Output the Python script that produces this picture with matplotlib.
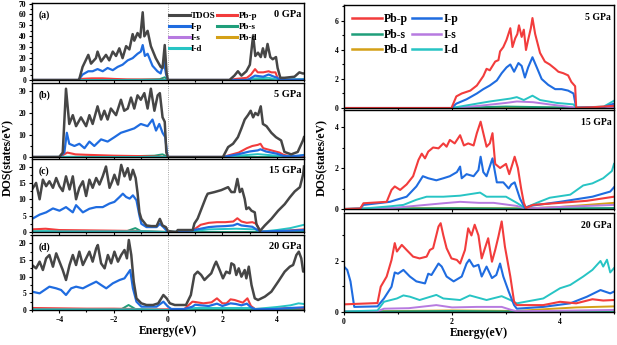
import matplotlib
matplotlib.use('Agg')
import matplotlib.pyplot as plt
from matplotlib.ticker import MultipleLocator

plt.rcParams['font.family'] = ['Liberation Serif', 'DejaVu Serif']
plt.rcParams['font.weight'] = 'bold'

# ---------- left panels: total + projected DOS, -5..5 eV ----------
# (a) 0 GPa
a_tdos_e = [-5, -3.3, -3.26, -3.14, -2.93, -2.83, -2.65, -2.59, -2.46, -2.28, -2.16, -2.03, -1.91, -1.79,
            -1.67, -1.54, -1.42, -1.30, -1.24, -1.12, -1.02, -0.93, -0.87, -0.75, -0.63, -0.45, -0.27,
            -0.20, -0.12, -0.05, 0.0, 2.26, 2.44, 2.57, 2.70, 2.88, 3.01, 3.13, 3.21, 3.31, 3.41, 3.49,
            3.57, 3.66, 3.76, 3.85, 3.97, 4.03, 4.13, 4.28, 4.65, 4.83, 4.95, 5.0]
a_tdos = [0, 0, 1, 12, 23, 15, 20, 26, 17, 23, 18, 26, 22, 29, 20, 31, 28, 42, 36, 43, 39, 62, 40, 45, 31,
          20, 12, 11, 32, 6, 0, 0, 4, 8, 4, 8, 14, 41, 22, 25, 21, 29, 21, 33, 21, 19, 21, 11, 2, 2, 3, 7,
          6, 6]
a_ip_e = [-5, -3.3, -3.26, -3.14, -2.93, -2.77, -2.59, -2.40, -2.22, -2.03, -1.85, -1.67, -1.48, -1.30,
          -1.12, -1.00, -0.93, -0.85, -0.75, -0.57, -0.39, -0.27, -0.15, -0.07, 0.0, 2.9, 3.0, 3.2, 3.5,
          3.7, 3.9, 4.02, 4.1, 5.0]
a_ip = [0, 0, 1, 5, 8, 8, 10, 8, 11, 9, 12, 14, 18, 20, 24, 26, 32, 22, 24, 13, 8, 6, 17, 5, 0, 0, 1, 4,
        3, 5, 3, 2, 0.3, 0.3]
a_pbp_e = [-5, -3.3, -3.2, -2.8, -2.4, -2.0, -1.5, -0.5, 0, 2.26, 2.5, 2.9, 3.05, 3.2, 3.3, 3.5, 3.7,
           3.8, 3.95, 4.05, 4.2, 5]
a_pbp = [0, 0, 1.0, 1.5, 1.5, 1.0, 0.5, 0.3, 0, 0, 1, 2, 5, 10, 7, 7, 8, 7, 7, 0.5, 0.3, 0.5]
a_pbs_e = [-5, -3.3, -1.0, -0.3, -0.12, -0.05, 0, 5]
a_pbs = [0, 0, 0.3, 0.8, 2.5, 1.0, 0, 0]
a_id_e = [-5, 2.9, 3.2, 3.7, 4.05, 5]
a_id = [0, 0, 1.5, 2, 0.3, 0.8]

# (b) 5 GPa
b_tdos_e = [-5, -4.0, -3.87, -3.75, -3.63, -3.50, -3.38, -3.20, -3.01, -2.89, -2.77, -2.59, -2.46, -2.34,
            -2.22, -2.10, -1.91, -1.73, -1.61, -1.48, -1.36, -1.24, -1.12, -1.0, -0.87, -0.75, -0.63,
            -0.50, -0.38, -0.30, -0.20, -0.12, -0.06, 0.0, 2.02, 2.21, 2.39, 2.57, 2.70, 2.82, 2.94, 3.04,
            3.13, 3.21, 3.31, 3.41, 3.49, 3.62, 3.80, 3.97, 4.16, 4.28, 4.53, 4.77, 4.96, 5.0]
b_tdos = [0, 0, 2, 31, 15, 19, 14, 18, 14, 19, 15, 23, 17, 21, 17, 22, 19, 26, 21, 22, 27, 22, 28, 26,
          29, 22, 31, 21, 28, 29, 18, 16, 2, 0, 0, 4.5, 6, 9, 13, 17, 19, 21, 18, 20, 19, 23, 15, 14, 11,
          9, 7.5, 2.3, 1.2, 2.3, 7.5, 9]
b_ip_e = [-5, -4.0, -3.81, -3.72, -3.63, -3.44, -3.26, -3.07, -2.89, -2.71, -2.46, -2.22, -1.97, -1.73,
          -1.48, -1.24, -1.0, -0.75, -0.57, -0.44, -0.32, -0.20, -0.10, -0.04, 0.0, 2.02, 2.6, 3.0, 3.3,
          3.4, 3.6, 4.0, 4.25, 4.5, 5.0]
b_ip = [0, 0, 2, 11, 6, 5, 6, 4, 7, 5, 8, 7, 9, 11, 12, 13, 15, 14, 17, 12, 15, 11, 9, 2, 0, 0, 1.3,
        2.5, 3, 3.5, 2.5, 1.5, 0.5, 0.3, 0.8]
b_pbp_e = [-5, -4.0, -3.7, -3.4, -3.0, -2.0, -1.0, 0, 2.02, 2.3, 2.6, 2.9, 3.1, 3.3, 3.4, 3.5, 3.8,
           4.1, 4.25, 4.5, 5.0]
b_pbp = [0, 0, 2, 1.2, 1, 0.6, 0.4, 0, 0, 1, 2, 4, 5, 5.5, 6, 4, 3, 2, 1, 0.3, 0.3]
b_pbs_e = [-5, -2, -0.5, -0.2, 0, 5]
b_pbs = [0, 0.2, 0.6, 1.2, 0, 0]
b_id_e = [-5, 2.02, 2.6, 3.3, 3.6, 4.25, 4.8, 5]
b_id = [0, 0, 0.6, 1.3, 1, 0.3, 0.5, 1]

# (c) 15 GPa
c_tdos_e = [-5.0, -4.85, -4.72, -4.60, -4.48, -4.36, -4.23, -4.11, -3.99, -3.87, -3.75, -3.62, -3.50,
            -3.38, -3.26, -3.13, -3.01, -2.89, -2.77, -2.64, -2.52, -2.40, -2.28, -2.15, -2.05, -1.97,
            -1.84, -1.72, -1.60, -1.48, -1.39, -1.29, -1.19, -1.12, -1.05, -0.98, -0.79, -0.61, -0.42,
            -0.30, -0.20, -0.08, 0.0, 0.3, 0.36, 0.91, 0.97, 1.09, 1.40, 1.46, 1.71, 1.96, 2.21, 2.33,
            2.45, 2.55, 2.64, 2.72, 2.82, 2.88, 2.97, 3.07, 3.19, 3.25, 3.38, 3.56, 3.80, 4.05, 4.29,
            4.48, 4.66, 4.85, 4.97, 5.0]
c_tdos = [13, 15, 10, 16, 14, 15.5, 13.5, 16.5, 14, 12.5, 17, 13, 17, 10, 13.5, 15.5, 11, 16, 13.5,
          16.5, 14.5, 17, 20, 13.5, 15.5, 17.5, 14.5, 20.5, 17, 19.5, 16, 19, 16.5, 12, 6, 4, 2, 1.8,
          1.8, 4, 2, 1.5, 0.3, 0, 0.6, 0.6, 2.6, 4.1, 10.7, 11.7, 12.2, 12.8, 13.7, 12.2, 12.2, 16.2,
          12.2, 13.2, 10.1, 7, 7.5, 6.5, 6, 2.4, 0.3, 2, 4, 6.5, 8.5, 10.6, 12.4, 13.7, 17.7, 20]
c_ip_e = [-5.0, -4.72, -4.48, -4.23, -3.99, -3.75, -3.50, -3.38, -3.13, -2.89, -2.64, -2.40, -2.15,
          -1.97, -1.78, -1.66, -1.54, -1.41, -1.29, -1.16, -1.05, -0.98, -0.79, -0.42, -0.30, -0.17, 0.0,
          0.3, 0.9, 1.2, 1.5, 1.8, 2.1, 2.4, 2.55, 2.7, 2.9, 3.1, 3.25, 3.4, 4.0, 4.5, 5.0]
c_ip = [4.0, 5.3, 6, 7.2, 6.5, 7.6, 6, 8.2, 6, 7.1, 7.6, 7.6, 8.7, 9.2, 10.7, 11.7, 10.7, 10.2, 11.2,
        9.7, 5, 2.5, 1.5, 1.5, 2.5, 1.5, 0, 0, 0.5, 1.0, 1.5, 1.7, 1.8, 2.0, 2.5, 2.0, 1.8, 1.6, 0.8,
        0.1, 0.3, 0.4, 0.6]
c_pbp_e = [-5, -4.5, -4.0, -3.0, -2.0, -1.1, -1.0, 0, 0.3, 0.9, 1.0, 1.2, 1.5, 1.8, 2.1, 2.4, 2.55, 2.7,
           2.9, 3.1, 3.25, 3.4, 4.0, 4.5, 5.0]
c_pbp = [0.8, 1.0, 0.6, 0.5, 0.4, 0.3, 0.1, 0, 0, 0.4, 1.0, 2.2, 2.8, 3.0, 3.0, 3.2, 4.2, 3.2, 2.8, 3.0,
         2.5, 0.2, 0.3, 0.5, 0.8]
c_pbs_e = [-5, -1.5, -1.2, -1.0, 0, 5]
c_pbs = [0.2, 0.3, 1.2, 0.3, 0, 0]
c_id_e = [-5, -1, 0, 0.9, 1.5, 2.5, 3.2, 3.4, 4.0, 4.5, 5.0]
c_id = [0.2, 0.2, 0, 0.3, 0.8, 1.0, 0.8, 0.1, 0.6, 1.2, 2.2]

# (d) 20 GPa
d_tdos_e = [-5.0, -4.85, -4.72, -4.60, -4.48, -4.36, -4.23, -4.11, -3.99, -3.87, -3.75, -3.62, -3.50,
            -3.38, -3.26, -3.13, -3.01, -2.89, -2.77, -2.64, -2.58, -2.46, -2.33, -2.21, -2.09, -1.97,
            -1.84, -1.72, -1.60, -1.51, -1.44, -1.35, -1.26, -1.16, -0.98, -0.79, -0.55, -0.36, -0.17,
            -0.05, 0.07, 0.25, 0.36, 0.66, 0.84, 0.97, 1.09, 1.22, 1.34, 1.46, 1.59, 1.71, 1.77, 1.90,
            2.02, 2.14, 2.27, 2.33, 2.43, 2.51, 2.60, 2.70, 2.82, 2.88, 2.97, 3.07, 3.19, 3.31, 3.56,
            3.80, 4.05, 4.29, 4.48, 4.60, 4.72, 4.81, 4.90, 4.97, 5.0]
d_tdos = [13.5, 12.5, 14.5, 12, 15.5, 16.5, 13, 17, 14.5, 12, 9, 13.5, 16.5, 13.5, 17.5, 13.5, 15.5,
          17.5, 14.5, 18.5, 19.5, 14, 12.5, 16.5, 14, 17.5, 14.5, 16.5, 18, 15.5, 21, 16.5, 8.5, 3.5, 2,
          1.5, 1.5, 2, 4.5, 3.5, 2, 1.5, 1.5, 1.5, 4.5, 10.5, 11.5, 10.5, 9, 10, 11, 13.5, 14.5, 12,
          9.5, 11.5, 11, 14, 13.5, 10.5, 12.5, 10, 12, 9.5, 13, 7.5, 3.5, 3, 4, 5.5, 8.5, 11.5, 13,
          13.5, 16.5, 17.5, 15.5, 11.5, 12]
d_ip_e = [-5.0, -4.72, -4.54, -4.36, -4.11, -3.93, -3.75, -3.56, -3.38, -3.13, -2.89, -2.64, -2.46,
          -2.27, -2.03, -1.78, -1.60, -1.39, -1.29, -1.16, -0.98, -0.42, -0.17, 0.0, 0.12, 0.6, 0.9, 1.0,
          1.2, 1.5, 1.8, 2.0, 2.3, 2.5, 2.7, 2.9, 3.05, 3.2, 4.0, 4.5, 5.0]
d_ip = [5.5, 5, 6, 7, 6.5, 6, 4.5, 6.5, 7, 6.5, 7.5, 8.5, 7.5, 6.5, 8, 9, 9.5, 12, 6.5, 2.5, 1, 1, 2.5,
        1, 0.3, 0.3, 1.0, 1.6, 1.4, 1.2, 1.9, 1.2, 2.0, 1.8, 1.4, 1.9, 0.8, 0.2, 0.3, 0.6, 0.8]
d_pbp_e = [-5, -4.0, -3.0, -2.0, -1.3, -1.0, 0, 0.6, 0.9, 1.0, 1.3, 1.6, 1.8, 2.0, 2.15, 2.3, 2.45,
           2.6, 2.75, 2.92, 3.05, 3.2, 4.0, 4.5, 5.0]
d_pbp = [0.6, 0.5, 0.4, 0.4, 0.3, 0.1, 0.2, 0.3, 2.5, 2.4, 2.0, 2.3, 3.5, 2.0, 2.0, 3.2, 3.0, 2.6, 2.2,
         3.5, 1.2, 0.3, 0.4, 0.6, 0.5]
d_pbs_e = [-5, -1.7, -1.45, -1.2, 0, 5]
d_pbs = [0.2, 0.3, 1.5, 0.3, 0, 0]
d_id_e = [-5, -1, 0, 0.6, 1.0, 2.0, 3.1, 3.2, 4.0, 4.5, 4.8, 5.0]
d_id = [0.2, 0.2, 0, 0.1, 0.6, 0.6, 0.6, 0.3, 0.9, 1.4, 2.0, 1.8]

# ---------- right panels: conduction band PDOS, 0..5 eV ----------
# 5 GPa
r5_pbp_e = [0, 1.99, 2.08, 2.18, 2.34, 2.46, 2.58, 2.64, 2.70, 2.80, 2.86, 2.89, 2.95, 3.01, 3.08, 3.12,
            3.17, 3.21, 3.24, 3.29, 3.33, 3.37, 3.41, 3.46, 3.49, 3.54, 3.63, 3.72, 3.81, 3.91, 3.97,
            4.06, 4.15, 4.21, 4.28, 4.30, 4.6, 5.0]
r5_pbp = [0, 0, 0.8, 1.0, 1.2, 1.55, 2.2, 2.7, 2.6, 3.2, 3.3, 3.9, 4.2, 4.7, 5.5, 4.2, 4.8, 5.1, 5.7,
          4.9, 5.4, 4.0, 4.7, 5.5, 6.2, 5.1, 3.8, 3.2, 3.0, 2.7, 2.5, 2.4, 2.25, 1.8, 1.5, 0.02, 0.05,
          0.15]
r5_ip_e = [0, 1.99, 2.08, 2.27, 2.46, 2.58, 2.70, 2.83, 2.92, 3.01, 3.08, 3.15, 3.23, 3.29, 3.35, 3.41,
           3.49, 3.57, 3.66, 3.78, 3.91, 4.03, 4.15, 4.25, 4.30, 4.8, 5.0]
r5_ip = [0, 0, 0.3, 0.6, 1.0, 1.3, 1.55, 1.9, 2.4, 2.8, 3.0, 2.5, 3.1, 2.9, 2.1, 2.8, 3.5, 2.8, 2.0,
         1.6, 1.3, 1.3, 1.2, 1.0, 0.02, 0.05, 0.3]
r5_id_e = [0, 1.99, 2.46, 2.70, 2.89, 3.08, 3.20, 3.33, 3.49, 3.63, 3.94, 4.25, 4.30, 4.81, 5.0]
r5_id = [0, 0, 0.3, 0.45, 0.55, 0.65, 0.75, 0.55, 0.85, 0.55, 0.35, 0.25, 0.02, 0.1, 0.5]
r5_is_e = [0, 1.99, 2.5, 3.0, 3.2, 3.5, 3.8, 4.3, 5.0]
r5_is = [0, 0, 0.15, 0.35, 0.45, 0.4, 0.25, 0.02, 0.05]
r5_pbs_e = [0, 1.99, 3.0, 4.3, 5.0]
r5_pbs = [0, 0, 0.1, 0.02, 0.03]
r5_pbd_e = [0, 1.99, 3.0, 4.3, 5.0]
r5_pbd = [0, 0, 0.05, 0.01, 0.05]

# 15 GPa
r15_pbp_e = [0, 0.30, 0.36, 0.79, 0.88, 0.94, 1.04, 1.16, 1.28, 1.38, 1.44, 1.50, 1.56, 1.65, 1.75,
             1.84, 1.90, 1.96, 2.05, 2.15, 2.22, 2.30, 2.40, 2.46, 2.53, 2.58, 2.64, 2.70, 2.75, 2.80,
             2.89, 3.0, 3.06, 3.12, 3.16, 3.22, 3.28, 3.33, 3.37, 3.5, 4.0, 4.5, 5.0]
r15_pbp = [0, 0.02, 0.28, 0.35, 0.93, 1.1, 0.93, 1.2, 1.6, 2.4, 2.7, 2.47, 2.8, 3.0, 2.96, 3.2, 3.04,
           3.37, 3.2, 3.6, 3.1, 3.2, 3.1, 3.7, 4.26, 3.7, 3.04, 3.2, 3.7, 2.2, 2.0, 2.2, 1.7, 2.2, 2.55,
           2.0, 1.0, 0.3, 0.05, 0.2, 0.3, 0.4, 0.6]
r15_ip_e = [0, 0.30, 0.36, 0.85, 0.97, 1.16, 1.34, 1.46, 1.56, 1.71, 1.84, 1.96, 2.09, 2.15, 2.18, 2.27,
            2.40, 2.49, 2.53, 2.58, 2.64, 2.75, 2.83, 2.95, 3.05, 3.10, 3.16, 3.26, 3.35, 3.44, 4.0,
            4.6, 4.93, 5.0]
r15_ip = [0, 0.02, 0.2, 0.35, 0.45, 0.6, 1.1, 1.6, 1.5, 1.4, 1.5, 1.6, 1.8, 2.07, 1.5, 1.7, 1.6, 1.9,
          2.55, 1.8, 1.6, 2.47, 1.3, 1.3, 1.0, 1.2, 1.3, 0.5, 0.05, 0.15, 0.35, 0.6, 0.85, 1.06]
r15_id_e = [0, 0.30, 0.85, 1.10, 1.34, 1.53, 1.84, 2.15, 2.52, 2.64, 3.0, 3.2, 3.35, 3.57, 3.81, 4.19,
            4.43, 4.6, 4.8, 4.96, 5.0]
r15_id = [0, 0.01, 0.13, 0.2, 0.45, 0.6, 0.6, 0.65, 0.8, 0.6, 0.6, 0.3, 0.05, 0.3, 0.55, 0.7, 1.15,
          1.25, 1.5, 1.85, 2.2]
r15_is_e = [0, 0.3, 0.9, 1.22, 1.84, 2.15, 2.5, 2.77, 3.2, 3.35, 4.0, 5.0]
r15_is = [0, 0.01, 0.05, 0.13, 0.28, 0.35, 0.3, 0.3, 0.15, 0.02, 0.1, 0.2]
r15_pbs_e = [0, 0.3, 2.0, 3.35, 5.0]
r15_pbs = [0, 0.01, 0.04, 0.02, 0.05]
r15_pbd_e = [0, 0.3, 2.0, 3.35, 4.0, 4.5, 5.0]
r15_pbd = [0, 0.02, 0.05, 0.03, 0.1, 0.2, 0.3]

# 20 GPa
r20_pbp_e = [0, 0.62, 0.68, 0.79, 0.88, 0.94, 0.98, 1.07, 1.16, 1.28, 1.40, 1.53, 1.59, 1.65, 1.75,
             1.79, 1.84, 1.90, 1.99, 2.09, 2.15, 2.24, 2.30, 2.36, 2.42, 2.49, 2.55, 2.61, 2.67, 2.74,
             2.80, 2.86, 2.92, 2.98, 3.08, 3.15, 3.20, 3.69, 4.0, 4.3, 4.6, 4.8, 5.0]
r20_pbp = [0.3, 0.35, 0.99, 1.39, 2.04, 2.7, 2.37, 2.63, 2.43, 2.17, 2.1, 2.17, 2.43, 2.5, 3.35, 3.48,
           3.0, 2.5, 2.1, 2.04, 1.9, 2.43, 3.28, 3.0, 3.42, 3.0, 2.1, 2.5, 2.89, 1.97, 2.43, 2.96, 3.55,
           2.56, 1.39, 0.4, 0.27, 0.27, 0.4, 0.34, 0.5, 0.45, 0.47]
r20_ip_e = [0, 0.06, 0.12, 0.19, 0.62, 0.74, 0.88, 0.94, 1.0, 1.10, 1.22, 1.34, 1.50, 1.56, 1.62, 1.75,
            1.81, 1.90, 2.03, 2.18, 2.27, 2.32, 2.40, 2.49, 2.55, 2.64, 2.74, 2.82, 2.89, 2.95, 3.05,
            3.15, 3.20, 3.69, 4.19, 4.5, 4.75, 4.93, 5.0]
r20_ip = [1.78, 1.65, 1.2, 0.2, 0.22, 0.53, 0.99, 1.55, 1.5, 1.65, 1.39, 1.2, 1.12, 1.5, 1.45, 1.9,
          1.78, 1.39, 1.2, 1.39, 1.9, 2.05, 1.78, 1.85, 1.39, 1.78, 1.33, 1.45, 1.9, 1.39, 0.8, 0.27,
          0.13, 0.2, 0.34, 0.6, 0.86, 0.73, 0.8]
r20_id_e = [0, 0.62, 0.74, 0.98, 1.10, 1.22, 1.40, 1.71, 1.84, 2.15, 2.33, 2.64, 2.92, 3.08, 3.20, 3.69,
            4.0, 4.19, 4.43, 4.6, 4.75, 4.8, 4.87, 4.93, 5.0]
r20_id = [0.02, 0.06, 0.4, 0.53, 0.65, 0.6, 0.47, 0.67, 0.53, 0.47, 0.65, 0.47, 0.62, 0.47, 0.34,
          0.53, 0.93, 1.06, 1.39, 1.65, 2.0, 1.78, 2.05, 1.55, 1.72]
r20_is_e = [0, 0.62, 0.74, 1.2, 1.71, 2.0, 2.46, 2.92, 3.1, 3.2, 4.0, 5.0]
r20_is = [0.02, 0.03, 0.13, 0.15, 0.27, 0.18, 0.2, 0.2, 0.08, 0.03, 0.05, 0.08]
r20_pbs_e = [0, 0.6, 2.0, 3.2, 5.0]
r20_pbs = [0.01, 0.02, 0.04, 0.02, 0.04]
r20_pbd_e = [0, 0.62, 2.0, 3.2, 3.8, 4.3, 5.0]
r20_pbd = [0.02, 0.03, 0.06, 0.04, 0.12, 0.18, 0.22]

# colours
c_tdos_col = '#464646'
c_pbp_col = '#f23c3c'
c_ip_col = '#1f6ce0'
c_pbs_col = '#1f9e7a'
c_is_col = '#b77ae0'
c_pbd_col = '#d4a017'
c_id_col = '#27c4c4'

W, H = 617, 345
fig = plt.figure(figsize=(W / 100, H / 100), dpi=100)


def px_axes(x0, x1, y0, y1):
    return fig.add_axes([x0 / W, 1 - y1 / H, (x1 - x0) / W, (y1 - y0) / H])


def style(ax, showx):
    ax.tick_params(which='both', direction='out', labelsize=5.5, width=0.8, pad=1.5)
    ax.tick_params(which='major', length=2.5)
    ax.tick_params(which='minor', length=1.5)
    if not showx:
        ax.tick_params(axis='x', labelbottom=False)
    for s in ax.spines.values():
        s.set_linewidth(1.0)
    for lab in ax.get_xticklabels() + ax.get_yticklabels():
        lab.set_fontweight('bold')


# ---- left column ----
left_rows = [
    ('(a)', '0 GPa', (3, 80), 70.5, 10, 5, a_tdos_e, a_tdos, a_ip_e, a_ip, a_pbp_e, a_pbp, a_pbs_e, a_pbs, a_id_e, a_id),
    ('(b)', '5 GPa', (83, 157), 33.6, 10, 5, b_tdos_e, b_tdos, b_ip_e, b_ip, b_pbp_e, b_pbp, b_pbs_e, b_pbs, b_id_e, b_id),
    ('(c)', '15 GPa', (159, 232), 22.3, 5, 2.5, c_tdos_e, c_tdos, c_ip_e, c_ip, c_pbp_e, c_pbp, c_pbs_e, c_pbs, c_id_e, c_id),
    ('(d)', '20 GPa', (235, 310), 22.5, 5, 2.5, d_tdos_e, d_tdos, d_ip_e, d_ip, d_pbp_e, d_pbp, d_pbs_e, d_pbs, d_id_e, d_id),
]

left_axes = []
for i, (tag, gpa, (y0, y1), ymax, major, minor, te, tv, ie, iv, pe, pv, se, sv, de, dv) in enumerate(left_rows):
    ax = px_axes(32, 304, y0, y1)
    ax.plot([-5, 5], [0, 0], color=c_pbd_col, lw=1.4, label='Pb-d')
    ax.plot([-5, 5], [0, 0], color=c_is_col, lw=1.4, label='I-s')
    ax.plot(se, sv, color=c_pbs_col, lw=1.4, label='Pb-s')
    ax.plot(pe, pv, color=c_pbp_col, lw=1.5, label='Pb-p')
    ax.plot(de, dv, color=c_id_col, lw=1.4, label='I-d')
    ax.plot(ie, iv, color=c_ip_col, lw=1.6, label='I-p')
    ax.plot(te, tv, color=c_tdos_col, lw=1.8, label='TDOS')
    ax.axvline(0, color='#888888', lw=0.6, ls=':')
    ax.set_xlim(-5, 5)
    ax.set_ylim(0, ymax)
    ax.xaxis.set_major_locator(MultipleLocator(2))
    ax.xaxis.set_minor_locator(MultipleLocator(1))
    ax.yaxis.set_major_locator(MultipleLocator(major))
    ax.yaxis.set_minor_locator(MultipleLocator(minor))
    style(ax, i == 3)
    ax.text(0.025, 0.9, tag, transform=ax.transAxes, fontsize=7, fontweight='bold', va='top')
    ax.text(0.99, 0.91, gpa, transform=ax.transAxes, fontsize=7.5, fontweight='bold', va='top', ha='right')
    left_axes.append(ax)

ax = left_axes[0]
h = {l.get_label(): l for l in ax.get_lines()}
order = ['TDOS', 'I-p', 'I-s', 'I-d', 'Pb-p', 'Pb-s', 'Pb-d']
leg = ax.legend([h[k] for k in order], order, loc='upper left', bbox_to_anchor=(0.48, 0.965),
                ncol=2, frameon=False, fontsize=6.5, handlelength=2.3, handletextpad=0.15,
                columnspacing=0.1, labelspacing=0.3, borderpad=0.2)
for t in leg.get_texts():
    t.set_fontweight('bold')
for l in leg.get_lines():
    l.set_linewidth(2.2)

left_axes[3].set_xlabel('Energy(eV)', fontsize=8.5, fontweight='bold', labelpad=1)

# ---- right column ----
right_rows = [
    ('5 GPa', (5, 108), 7.1, r5_pbp_e, r5_pbp, r5_ip_e, r5_ip, r5_pbs_e, r5_pbs, r5_is_e, r5_is,
     r5_pbd_e, r5_pbd, r5_id_e, r5_id),
    ('15 GPa', (110, 209), 4.83, r15_pbp_e, r15_pbp, r15_ip_e, r15_ip, r15_pbs_e, r15_pbs, r15_is_e,
     r15_is, r15_pbd_e, r15_pbd, r15_id_e, r15_id),
    ('20 GPa', (213, 312), 3.88, r20_pbp_e, r20_pbp, r20_ip_e, r20_ip, r20_pbs_e, r20_pbs, r20_is_e,
     r20_is, r20_pbd_e, r20_pbd, r20_id_e, r20_id),
]

right_axes = []
for i, (gpa, (y0, y1), ymax, pe, pv, ie, iv, se, sv, ise, isv, de, dv, ide, idv) in enumerate(right_rows):
    ax = px_axes(344, 614, y0, y1)
    ax.plot(de, dv, color=c_pbd_col, lw=1.4, label='Pb-d')
    ax.plot(se, sv, color=c_pbs_col, lw=1.4, label='Pb-s')
    ax.plot(ise, isv, color=c_is_col, lw=1.4, label='I-s')
    ax.plot(ide, idv, color=c_id_col, lw=1.4, label='I-d')
    ax.plot(ie, iv, color=c_ip_col, lw=1.5, label='I-p')
    ax.plot(pe, pv, color=c_pbp_col, lw=1.5, label='Pb-p')
    ax.set_xlim(0, 5)
    ax.set_ylim(0, ymax)
    ax.xaxis.set_major_locator(MultipleLocator(2))
    ax.xaxis.set_minor_locator(MultipleLocator(1))
    ax.yaxis.set_major_locator(MultipleLocator(2))
    ax.yaxis.set_minor_locator(MultipleLocator(1))
    style(ax, i == 2)
    ax.text(0.99, 0.92, gpa, transform=ax.transAxes, fontsize=7, fontweight='bold', va='top', ha='right')
    right_axes.append(ax)

ax = right_axes[0]
h = {l.get_label(): l for l in ax.get_lines()}
order = ['Pb-p', 'Pb-s', 'Pb-d', 'I-p', 'I-s', 'I-d']
leg = ax.legend([h[k] for k in order], order, loc='upper left', bbox_to_anchor=(-0.005, 1.01),
                ncol=2, frameon=False, fontsize=8.5, handlelength=2.5, handletextpad=0.2,
                columnspacing=0.3, labelspacing=0.3, borderpad=0.3)
for t in leg.get_texts():
    t.set_fontweight('bold')
for l in leg.get_lines():
    l.set_linewidth(1.8)

right_axes[2].set_xlabel('Energy(eV)', fontsize=8.5, fontweight='bold', labelpad=1)

fig.text(8 / W, 1 - 158 / H, 'DOS(states/eV)', rotation=90, fontsize=8.5, fontweight='bold',
         ha='center', va='center')
fig.text(322 / W, 1 - 158 / H, 'DOS(states/eV)', rotation=90, fontsize=8.5, fontweight='bold',
         ha='center', va='center')

fig.savefig('out.png', dpi=100)
